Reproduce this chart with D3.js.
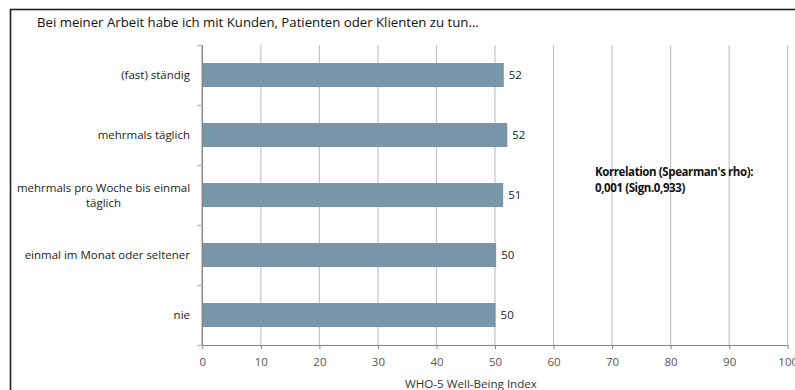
<!DOCTYPE html>
<html><head><meta charset="utf-8">
<script src="https://cdn.jsdelivr.net/npm/d3@7"></script>
<style>
html,body{margin:0;padding:0;background:#fff;}
svg{display:block;font-family:"Open Sans",sans-serif;}
</style></head>
<body><svg id="c" width="795" height="390"></svg>
<script>
const categories = ["(fast) ständig", "mehrmals täglich", "mehrmals pro Woche bis einmal täglich", "einmal im Monat oder seltener", "nie"];
const categoryLines = [["(fast) ständig"], ["mehrmals täglich"], ["mehrmals pro Woche bis einmal", "täglich"], ["einmal im Monat oder seltener"], ["nie"]];
const values = [51.5, 52.1, 51.4, 50.2, 50.1];
const valueLabels = ["52", "52", "51", "50", "50"];
const xTicks = [0, 10, 20, 30, 40, 50, 60, 70, 80, 90, 100];
const title = "Bei meiner Arbeit habe ich mit Kunden, Patienten oder Klienten zu tun...";
const xTitle = "WHO-5 Well-Being Index";
const note = ["Korrelation (Spearman's rho):", "0,001 (Sign.0,933)"];

(function () {
const svg = d3.select("#c");
const pl = 202.3, pr = 787.7, pt = 45, pb = 345;
const x = d3.scaleLinear().domain([0, 100]).range([pl, pr]);
const y = d3.scaleBand().domain(categories).range([pt, pb]).paddingInner(0.6).paddingOuter(0.3);

svg.append("rect").attr("x", 10.5).attr("y", 9.5).attr("width", 800).attr("height", 400)
  .attr("fill", "none").attr("stroke", "#222").attr("stroke-width", 1.6);

svg.append("text").attr("x", 37).attr("y", 27).attr("font-size", 13.2).attr("fill", "#111").text(title);

svg.append("g").selectAll("line").data(xTicks.slice(1)).join("line")
  .attr("x1", d => x(d)).attr("x2", d => x(d)).attr("y1", pt).attr("y2", pb)
  .attr("stroke", "#c4c4c4").attr("stroke-width", 1.2);

svg.append("g").selectAll("rect").data(values).join("rect")
  .attr("x", x(0)).attr("y", (d, i) => y(categories[i]))
  .attr("width", d => x(d) - x(0)).attr("height", y.bandwidth())
  .attr("fill", "#7897aa");

svg.append("g").selectAll("text").data(values).join("text")
  .attr("x", d => x(d) + 5).attr("y", (d, i) => y(categories[i]) + y.bandwidth() / 2)
  .attr("dy", "0.35em").attr("font-size", 11.5).attr("fill", "#222")
  .text((d, i) => valueLabels[i]);

const xAxis = d3.axisBottom(x).tickValues(xTicks).tickSize(4).tickPadding(9);
const gx = svg.append("g").attr("transform", `translate(0,${pb})`).call(xAxis);
gx.select(".domain").attr("stroke", "#868686").attr("d", `M${pl - 4},0.5H${pr}`);
gx.selectAll(".tick line").attr("stroke", "#868686");
gx.selectAll(".tick text").attr("font-size", 11.5).attr("fill", "#555").attr("font-family", "Open Sans");

const yAxis = d3.axisLeft(y).tickValues([]).tickSize(0);
const gy = svg.append("g").attr("transform", `translate(${pl},0)`).call(yAxis);
gy.select(".domain").attr("stroke", "#868686").attr("stroke-width", 1.5).attr("d", `M0,${pt}V${pb}`);
const bounds = categories.map(c => y(c) - y.step() * y.paddingInner() / 2).concat([pb]);
gy.selectAll("line.bt").data(bounds).join("line").attr("class", "bt")
  .attr("x1", -5).attr("x2", 0).attr("y1", d => Math.round(d) + 0.5).attr("y2", d => Math.round(d) + 0.5)
  .attr("stroke", "#bbb").attr("stroke-width", 1.5);

const lab = svg.append("g");
categoryLines.forEach((lines, i) => {
  const cy = y(categories[i]) + y.bandwidth() / 2;
  const n = lines.length;
  if (n === 1) {
    lab.append("text").attr("x", 190).attr("y", cy).attr("dy", "0.35em")
      .attr("text-anchor", "end").attr("font-size", 11.5).attr("fill", "#222").text(lines[0]);
  } else {
    const t = lab.append("text").attr("font-size", 11.5).attr("fill", "#222").attr("text-anchor", "middle");
    lines.forEach((l, j) => {
      t.append("tspan").attr("x", 103.5).attr("y", cy + (j - (n - 1) / 2) * 15).attr("dy", "0.35em").text(l);
    });
  }
});

svg.append("text").attr("x", 471).attr("y", 388).attr("text-anchor", "middle")
  .attr("font-size", 11.6).attr("fill", "#333").text(xTitle);

svg.append("g").selectAll("text").data(note).join("text")
  .attr("x", 595).attr("y", (d, i) => 176 + i * 15.5)
  .attr("font-size", 11.5).attr("font-weight", "bold").attr("fill", "#111")
  .attr("letter-spacing", -0.4).text(d => d);
})();
</script></body></html>
